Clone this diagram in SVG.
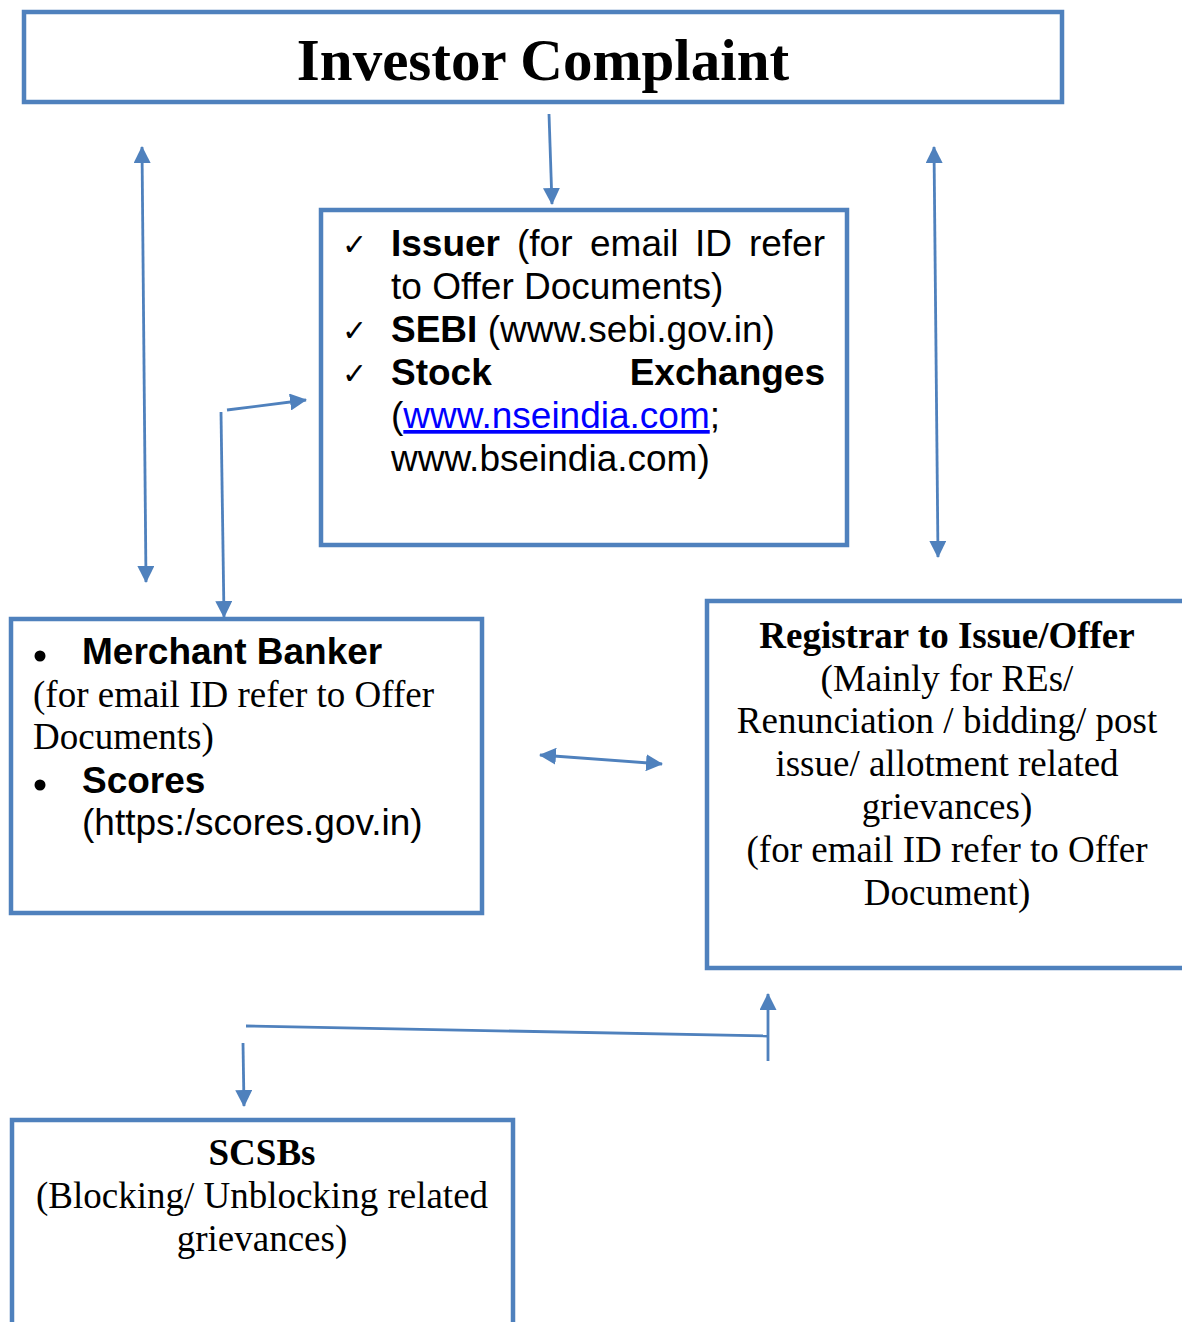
<svg xmlns="http://www.w3.org/2000/svg" width="1182" height="1322" viewBox="0 0 1182 1322">
<style>
.box{fill:#ffffff;stroke:#4F81BD;stroke-width:4.5}
.ln{fill:none;stroke:#4F81BD;stroke-width:2.8}
.ser{font-family:"Liberation Serif","Times New Roman",serif;font-size:37px;fill:#000}
.sans{font-family:"Liberation Sans",Arial,sans-serif;font-size:37px;fill:#000}
.b{font-weight:bold}
.chk{font-family:"DejaVu Sans",sans-serif;font-size:30px;fill:#000}
.mid{text-anchor:middle}
</style>
<defs>
<marker id="ah" markerUnits="userSpaceOnUse" markerWidth="17" markerHeight="17" refX="16" refY="8.5" orient="auto-start-reverse" viewBox="0 0 17 17">
<path d="M0,0 L17,8.5 L0,17 Z" fill="#4F81BD"/>
</marker>
</defs>
<rect width="1182" height="1322" fill="#ffffff"/>

<g id="investor-complaint">
<rect class="box" x="24" y="12" width="1038" height="90"/>
<text class="ser b mid" x="543" y="80" style="font-size:59px">Investor Complaint</text>
</g>

<g id="issuer-sebi-exchanges">
<rect class="box" x="321" y="210" width="526" height="335"/>
<text class="chk" x="342" y="255">✓</text>
<text class="chk" x="342" y="341">✓</text>
<text class="chk" x="342" y="384">✓</text>
<text class="sans b" x="391" y="256">Issuer</text>
<text class="sans" x="517" y="256">(for</text>
<text class="sans" x="590" y="256">email</text>
<text class="sans" x="695" y="256">ID</text>
<text class="sans" x="825" y="256" text-anchor="end">refer</text>
<text class="sans" x="391" y="299">to Offer Documents)</text>
<text class="sans" x="391" y="342"><tspan class="b">SEBI</tspan> (www.sebi.gov.in)</text>
<text class="sans b" x="391" y="385">Stock</text>
<text class="sans b" x="825" y="385" text-anchor="end">Exchanges</text>
<text class="sans" x="391" y="428">(<tspan fill="#0000FF" text-decoration="underline">www.nseindia.com</tspan>;</text>
<text class="sans" x="391" y="471">www.bseindia.com)</text>
</g>

<g id="merchant-banker">
<rect class="box" x="11" y="619" width="471" height="294"/>
<circle cx="40" cy="656" r="5.5" fill="#000"/>
<text class="sans b" x="82" y="664">Merchant Banker</text>
<text class="ser" x="33" y="707">(for email ID refer to Offer</text>
<text class="ser" x="33" y="749">Documents)</text>
<circle cx="40" cy="785" r="5.5" fill="#000"/>
<text class="sans b" x="82" y="793">Scores</text>
<text class="sans" x="82" y="835">(https:/scores.gov.in)</text>
</g>

<g id="registrar">
<rect class="box" x="707" y="601" width="490" height="367"/>
<text class="ser b mid" x="947" y="648">Registrar to Issue/Offer</text>
<text class="ser mid" x="947" y="691">(Mainly for REs/</text>
<text class="ser mid" x="947" y="733">Renunciation / bidding/ post</text>
<text class="ser mid" x="947" y="776">issue/ allotment related</text>
<text class="ser mid" x="947" y="819">grievances)</text>
<text class="ser mid" x="947" y="862">(for email ID refer to Offer</text>
<text class="ser mid" x="947" y="905">Document)</text>
</g>

<g id="scsbs">
<rect class="box" x="12" y="1120" width="501" height="215"/>
<text class="ser b mid" x="262" y="1165">SCSBs</text>
<text class="ser mid" x="262" y="1208">(Blocking/ Unblocking related</text>
<text class="ser mid" x="262" y="1251">grievances)</text>
</g>

<g id="connectors">
<line class="ln" x1="142" y1="147" x2="146" y2="582" marker-start="url(#ah)" marker-end="url(#ah)"/>
<line class="ln" x1="549" y1="114" x2="552" y2="204" marker-end="url(#ah)"/>
<line class="ln" x1="934" y1="147" x2="938" y2="557" marker-start="url(#ah)" marker-end="url(#ah)"/>
<line class="ln" x1="221" y1="412" x2="224" y2="617" marker-end="url(#ah)"/>
<line class="ln" x1="227" y1="410" x2="306" y2="400" marker-end="url(#ah)"/>
<line class="ln" x1="540" y1="755" x2="662" y2="764" marker-start="url(#ah)" marker-end="url(#ah)"/>
<line class="ln" x1="246" y1="1026" x2="768" y2="1036"/>
<line class="ln" x1="768" y1="1061" x2="768" y2="994" marker-end="url(#ah)"/>
<line class="ln" x1="243" y1="1043" x2="244" y2="1106" marker-end="url(#ah)"/>
</g>
</svg>
